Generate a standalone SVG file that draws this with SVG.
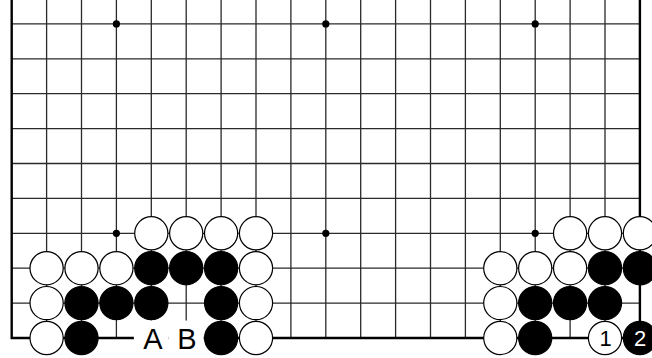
<svg xmlns="http://www.w3.org/2000/svg" width="652" height="358" viewBox="0 0 652 358">
<style>
.grid{fill:none;stroke:#2a2a2a;stroke-width:1.3}
.edge{fill:none;stroke:#000;stroke-width:2.4;stroke-linejoin:miter}
.star{fill:#000}
.w{fill:#fff;stroke:#000;stroke-width:1.2}
.b{fill:#000;stroke:#000;stroke-width:1.2}
.mask{fill:#fff}
.lbl{font-family:"Liberation Sans",Arial,sans-serif;font-size:29px;fill:#000;text-anchor:middle}
.num{font-family:"Liberation Sans",Arial,sans-serif;font-size:22px;text-anchor:middle}
</style>
<rect width="652" height="358" fill="#fff"/>
<g id="board">
<path class="grid" d="M46.6 0V338M81.5 0V338M116.4 0V338M151.3 0V338M186.2 0V338M221.1 0V338M256 0V338M290.9 0V338M325.8 0V338M360.7 0V338M395.6 0V338M430.5 0V338M465.4 0V338M500.3 0V338M535.2 0V338M570.1 0V338M605 0V338M11.7 303.1H639.9M11.7 268.2H639.9M11.7 233.3H639.9M11.7 198.4H639.9M11.7 163.5H639.9M11.7 128.6H639.9M11.7 93.7H639.9M11.7 58.8H639.9M11.7 23.9H639.9"/>
<path class="edge" d="M11.7 0V338H639.9V0"/>
<g class="star">
<circle cx="116.4" cy="23.9" r="3.6"/><circle cx="325.8" cy="23.9" r="3.6"/><circle cx="535.2" cy="23.9" r="3.6"/>
<circle cx="116.4" cy="233.3" r="3.6"/><circle cx="325.8" cy="233.3" r="3.6"/><circle cx="535.2" cy="233.3" r="3.6"/>
</g>
</g>
<g id="left-group">
<circle class="w" cx="151.3" cy="233.3" r="16.6"/>
<circle class="w" cx="186.2" cy="233.3" r="16.6"/>
<circle class="w" cx="221.1" cy="233.3" r="16.6"/>
<circle class="w" cx="256" cy="233.3" r="16.6"/>
<circle class="w" cx="46.6" cy="268.2" r="16.6"/>
<circle class="w" cx="81.5" cy="268.2" r="16.6"/>
<circle class="w" cx="116.4" cy="268.2" r="16.6"/>
<circle class="b" cx="151.3" cy="268.2" r="16.6"/>
<circle class="b" cx="186.2" cy="268.2" r="16.6"/>
<circle class="b" cx="221.1" cy="268.2" r="16.6"/>
<circle class="w" cx="256" cy="268.2" r="16.6"/>
<circle class="w" cx="46.6" cy="303.1" r="16.6"/>
<circle class="b" cx="81.5" cy="303.1" r="16.6"/>
<circle class="b" cx="116.4" cy="303.1" r="16.6"/>
<circle class="b" cx="151.3" cy="303.1" r="16.6"/>
<circle class="b" cx="221.1" cy="303.1" r="16.6"/>
<circle class="w" cx="256" cy="303.1" r="16.6"/>
<circle class="w" cx="46.6" cy="338" r="16.6"/>
<circle class="b" cx="81.5" cy="338" r="16.6"/>
<circle class="b" cx="221.1" cy="338" r="16.6"/>
<circle class="w" cx="256" cy="338" r="16.6"/>
</g>
<g id="label-A">
<circle class="mask" cx="151.3" cy="338" r="17.5"/>
<text class="lbl" x="153" y="349">A</text>
</g>
<g id="label-B">
<circle class="mask" cx="186.2" cy="338" r="17.5"/>
<text class="lbl" x="187" y="349">B</text>
</g>
<g id="right-group">
<circle class="w" cx="570.1" cy="233.3" r="16.6"/>
<circle class="w" cx="605" cy="233.3" r="16.6"/>
<circle class="w" cx="639.9" cy="233.3" r="16.6"/>
<circle class="w" cx="500.3" cy="268.2" r="16.6"/>
<circle class="w" cx="535.2" cy="268.2" r="16.6"/>
<circle class="w" cx="570.1" cy="268.2" r="16.6"/>
<circle class="b" cx="605" cy="268.2" r="16.6"/>
<circle class="b" cx="639.9" cy="268.2" r="16.6"/>
<circle class="w" cx="500.3" cy="303.1" r="16.6"/>
<circle class="b" cx="535.2" cy="303.1" r="16.6"/>
<circle class="b" cx="570.1" cy="303.1" r="16.6"/>
<circle class="b" cx="605" cy="303.1" r="16.6"/>
<circle class="w" cx="500.3" cy="338" r="16.6"/>
<circle class="b" cx="535.2" cy="338" r="16.6"/>
</g>
<g id="move-1">
<circle class="w" cx="605" cy="338" r="16.6"/>
<text class="num" x="605.5" y="346" fill="#000">1</text>
</g>
<g id="move-2">
<circle class="b" cx="639.9" cy="338" r="16.6"/>
<text class="num" x="640" y="346" fill="#fff">2</text>
</g>
</svg>
